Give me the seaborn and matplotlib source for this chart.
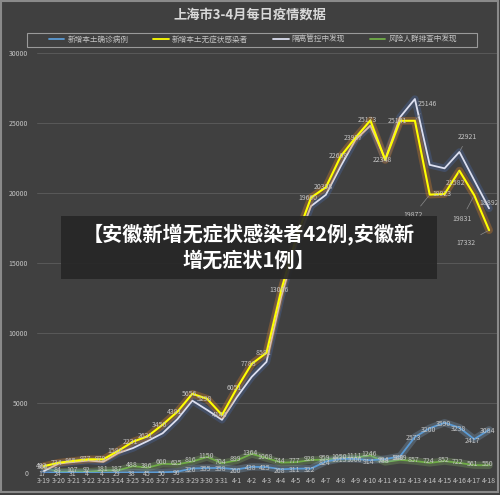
import matplotlib
matplotlib.use('Agg')
import matplotlib.pyplot as plt
import matplotlib.patheffects as pe
from matplotlib.lines import Line2D
from matplotlib.patches import Rectangle
import seaborn as sns
import pandas as pd

dates = ['3-19', '3-20', '3-21', '3-22', '3-23', '3-24', '3-25', '3-26', '3-27', '3-28',
         '3-29', '3-30', '3-31', '4-1', '4-2', '4-3', '4-4', '4-5', '4-6', '4-7',
         '4-8', '4-9', '4-10', '4-11', '4-12', '4-13', '4-14', '4-15', '4-16', '4-17', '4-18']

confirmed = [17, 24, 31, 4, 4, 29, 38, 45, 50, 96, 326, 355, 358, 260, 438, 425, 268, 311, 322,
             824, 1015, 1006, 914, 994, 1189, 2573, 3200, 3590, 3238, 2417, 3084]
asymptomatic = [492, 734, 865, 977, 979, 1580, 2231, 2631, 3450, 4381, 5656, 5298, 4144, 6051,
                7788, 8581, 13086, 16766, 19660, 20398, 22609, 23937, 25173, 22348, 25141, 25146,
                19872, 19923, 21582, 19831, 17332]
quarantine = [143, 674, 789, 889, 802, 1422, 1781, 2290, 2840, 3852, 5166, 4503, 3798, 5412,
              6862, 7938, 12610, 16300, 19054, 19860, 21900, 23800, 24800, 22400, 25400, 26700,
              22000, 21750, 22921, 20900, 18892]
screening = [366, 84, 107, 92, 181, 187, 488, 386, 660, 625, 816, 1150, 704, 899, 1364, 1068,
             744, 777, 928, 959, 1050, 1111, 1246, 788, 940, 857, 724, 852, 722, 561, 550]

series_names = ['新增本土确诊病例', '新增本土无症状感染者', '隔离管控中发现', '风险人群排查中发现']

df = pd.DataFrame({'date': dates,
                   series_names[0]: confirmed,
                   series_names[1]: asymptomatic,
                   series_names[2]: quarantine,
                   series_names[3]: screening})

sns.set_style('dark')
plt.rcParams['font.family'] = ['Noto Sans CJK SC', 'DejaVu Sans']

bg = '#404040'
txt = '#c4c4c4'

fig = plt.figure(figsize=(5, 4.95), dpi=100, facecolor=bg)
ax = fig.add_axes([0.073, 0.0444, 0.92, 0.849])
ax.set_facecolor(bg)

# line colour, glow colour, glow alpha, width, z-order
styles = {
    series_names[3]: ('#70ad47', '#8fc46a', 0.25, 1.3, 3),
    series_names[0]: ('#5b9bd5', '#8db8e3', 0.25, 1.3, 4),
    series_names[2]: ('#dcdff0', '#4a6aa8', 0.35, 1.3, 5),
    series_names[1]: ('#ffff00', '#d9822b', 0.35, 1.5, 6),
}

for name, (col, glow, ga, lw, z) in styles.items():
    sns.lineplot(data=df, x='date', y=name, ax=ax, color=col, linewidth=lw, zorder=z,
                 sort=False,
                 path_effects=[pe.Stroke(linewidth=lw + 4, foreground=glow, alpha=ga),
                               pe.Normal()])

ax.set_xlim(-0.5, len(dates) - 0.5)
ax.set_ylim(0, 30000)
ax.set_yticks(range(0, 30001, 5000))
ax.set_xlabel('')
ax.set_ylabel('')
ax.grid(axis='y', color='#595959', linewidth=0.7)
ax.grid(axis='x', visible=False)
for s in ax.spines.values():
    s.set_visible(False)
ax.tick_params(colors=txt, labelsize=5, length=0, pad=3)
ax.tick_params(axis='y', pad=6)

# data labels
lab = dict(fontsize=5, color=txt, ha='center', va='center', zorder=10)
callouts = {25: (9, 12), 26: (-12, -15), 28: (-3, -9), 29: (-9, -17), 30: (-17, -9)}
for i, v in enumerate(confirmed):
    ax.annotate(str(v), (i, v), xytext=(-1, -1), textcoords='offset points', **lab)
for i, v in enumerate(screening):
    ax.annotate(str(v), (i, v), xytext=(-1, 1), textcoords='offset points', **lab)
for i, v in enumerate(asymptomatic):
    if i in callouts:
        ax.annotate(str(v), (i, v), xytext=callouts[i], textcoords='offset points',
                    arrowprops=dict(arrowstyle='-', color='#8c8c8c', lw=0.5,
                                    shrinkA=2, shrinkB=1), **lab)
    else:
        ax.annotate(str(v), (i, v), xytext=(-2, 0), textcoords='offset points', **lab)
ax.annotate(str(quarantine[28]), (28, quarantine[28]), xytext=(6, 11), textcoords='offset points',
            arrowprops=dict(arrowstyle='-', color='#8c8c8c', lw=0.5, shrinkA=2, shrinkB=1), **lab)
ax.annotate(str(quarantine[30]), (30, quarantine[30]), xytext=(0, 4), textcoords='offset points', **lab)

# title and legend
fig.text(0.5, 1 - 15 / 495, '上海市3-4月每日疫情数据', ha='center', va='center',
         fontsize=9.5, fontweight='bold', color='#d9d9d9')
handles = [Line2D([], [], color=styles[n][0], linewidth=1.3) for n in series_names]
fig.legend(handles, series_names, loc='center', ncol=4,
           bbox_to_anchor=(253 / 500, 1 - 40 / 495),
           fontsize=5.5, labelcolor=txt, frameon=False,
           handlelength=2.0, handletextpad=0.4, columnspacing=3.3)
fig.patches.append(Rectangle((27 / 500, 1 - 47 / 495), 450 / 500, 14 / 495,
                             transform=fig.transFigure, fill=False,
                             edgecolor='#9a9a9a', linewidth=0.8))

# outer border
fig.patches.append(Rectangle((0.002, 0.006), 0.993, 0.991, transform=fig.transFigure,
                             fill=False, edgecolor='#8a8a8a', linewidth=1.5))

# caption overlay
fig.patches.append(Rectangle((61 / 500, 1 - 279 / 495), 376 / 500, 63 / 495,
                             transform=fig.transFigure, facecolor='#262626', alpha=0.92,
                             edgecolor='none', zorder=20))
fig.text(249 / 500, 1 - 247 / 495, '【安徽新增无症状感染者42例,安徽新\n增无症状1例】',
         ha='center', va='center', multialignment='center', fontsize=14.5,
         fontweight='bold', color='white', linespacing=1.3, zorder=21)

fig.savefig('out.png', dpi=100, facecolor=bg)
